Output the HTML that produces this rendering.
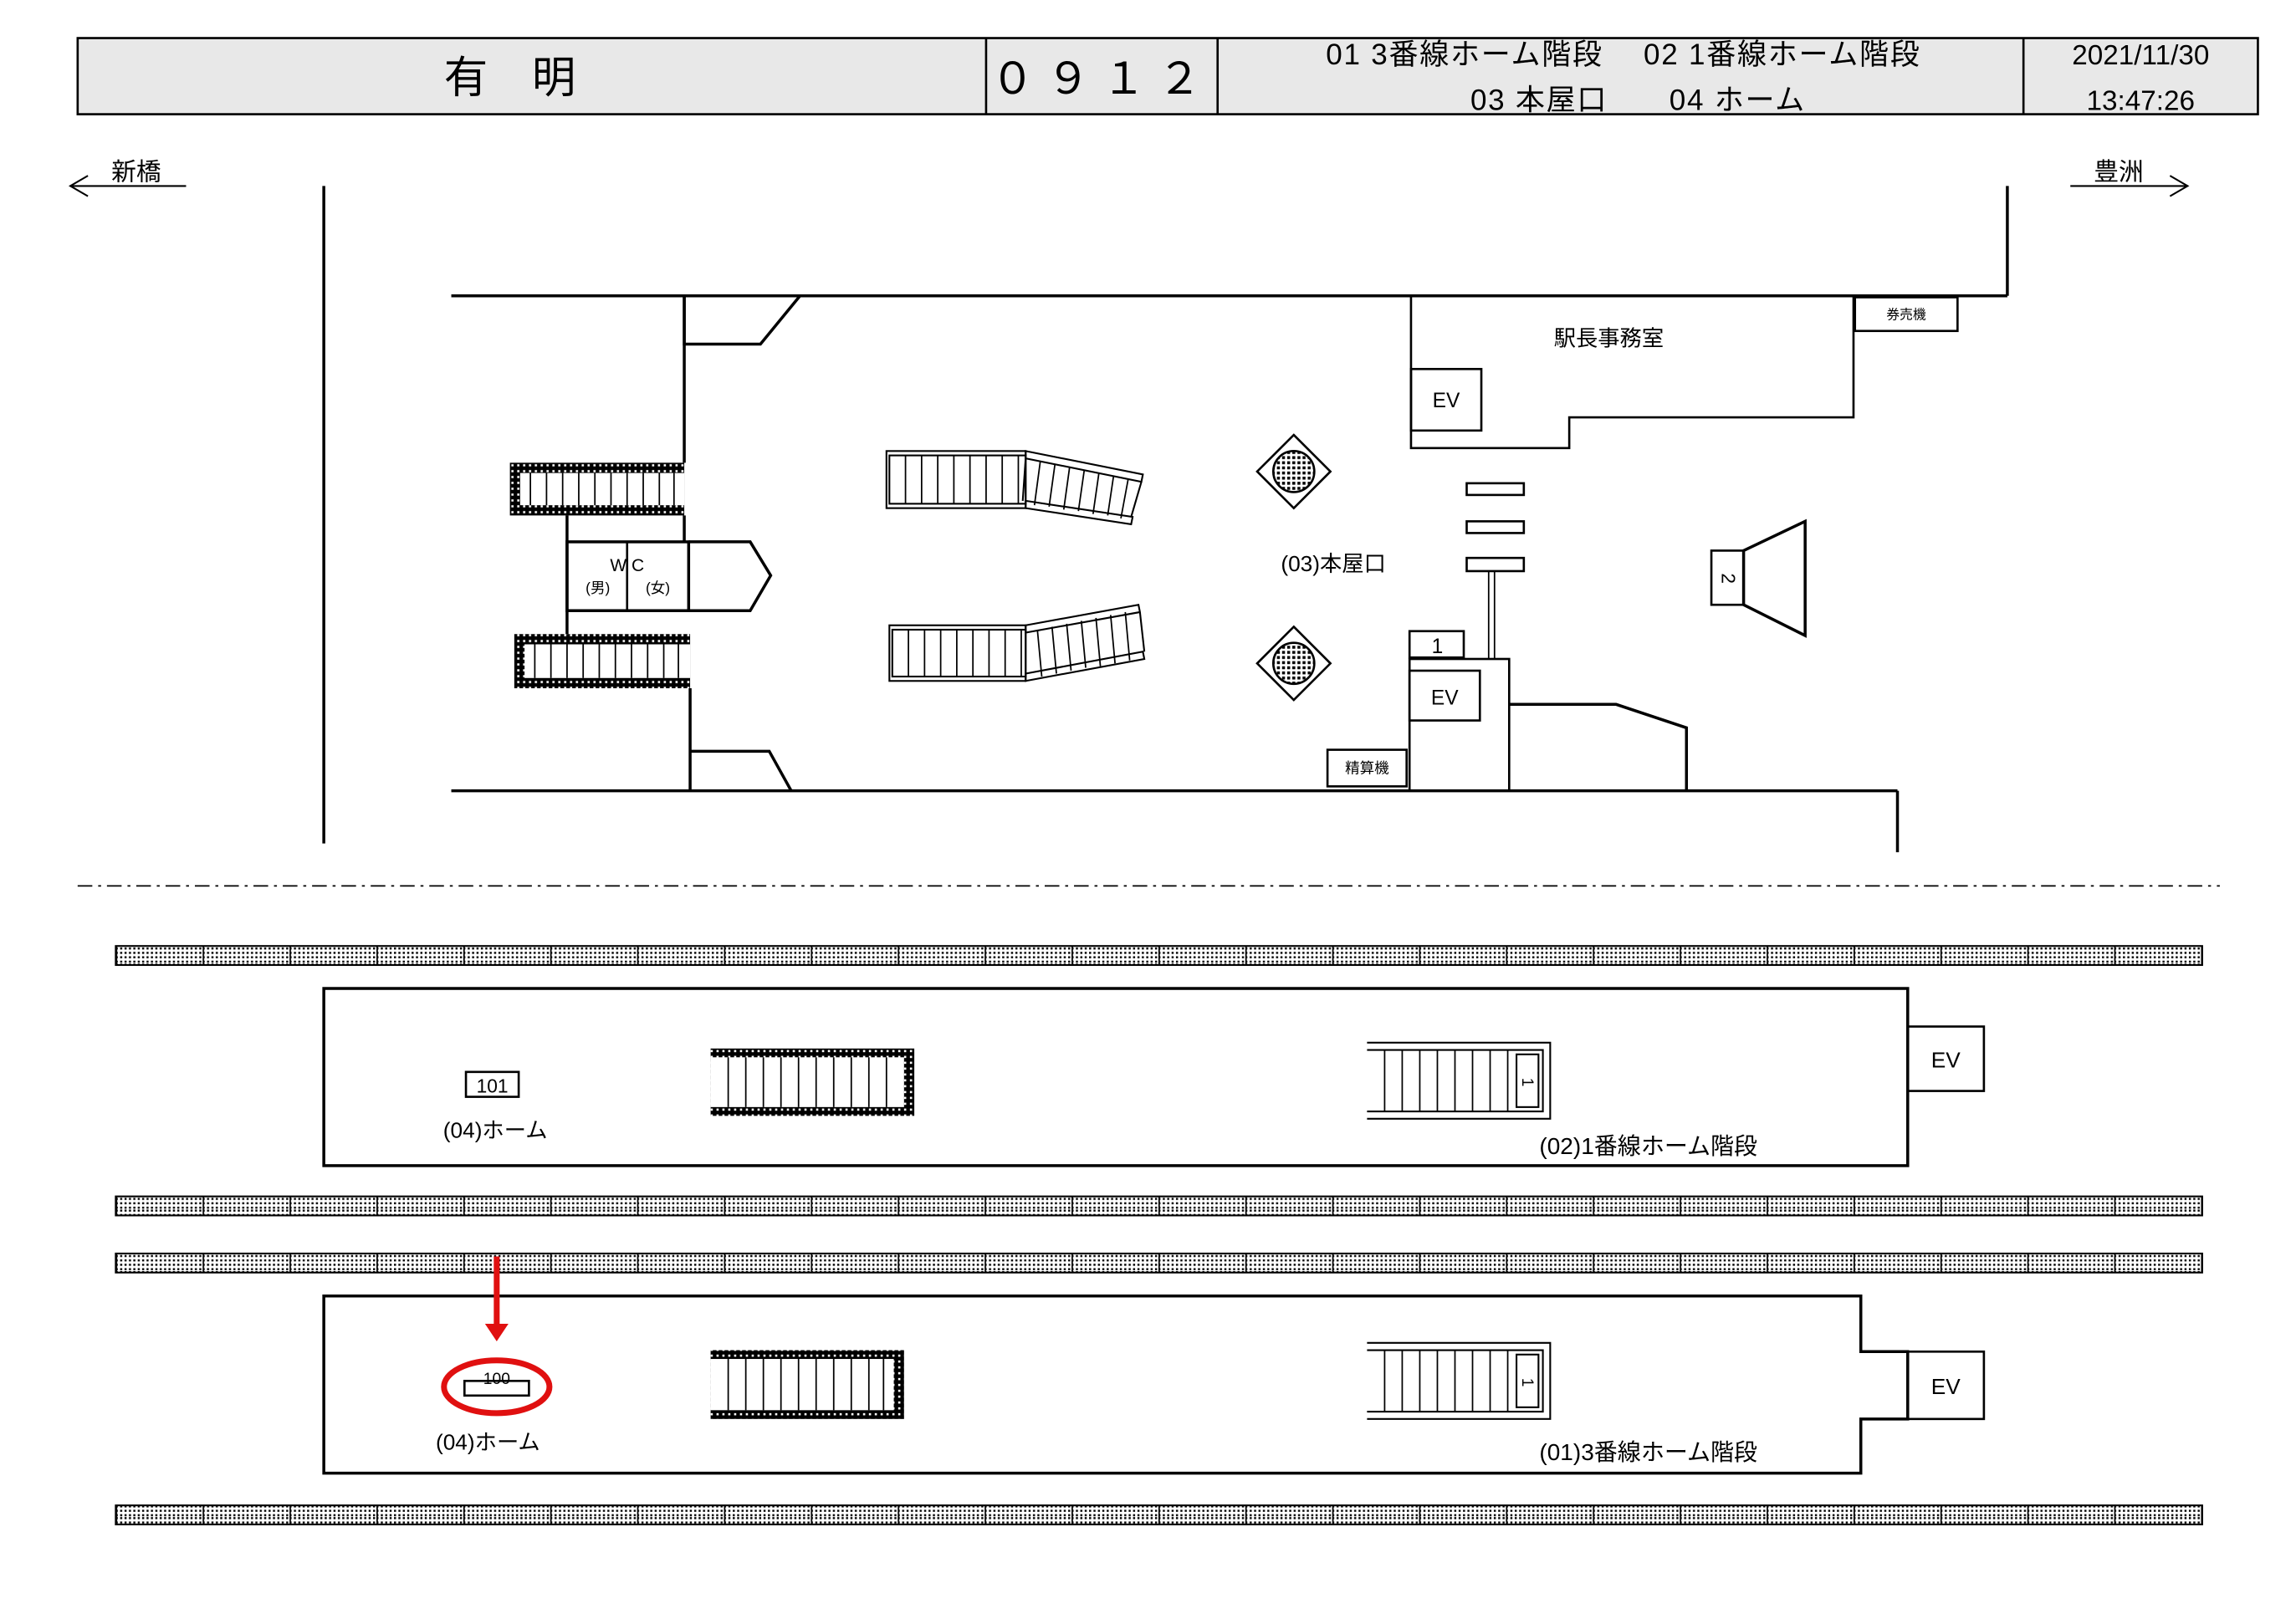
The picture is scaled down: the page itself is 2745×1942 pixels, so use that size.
<!DOCTYPE html>
<html><head><meta charset="utf-8"><style>html,body{margin:0;padding:0;background:#fff}svg{display:block}text{font-family:"Liberation Sans","Noto Sans CJK JP",sans-serif;fill:#000}</style></head>
<body>
<svg width="2745" height="1942" viewBox="0 0 1567 1109" preserveAspectRatio="none" xmlns="http://www.w3.org/2000/svg">
<defs>
<pattern id="d" width="3" height="3" patternUnits="userSpaceOnUse"><rect width="3" height="3" fill="#fff"/><rect width="1.4" height="1.4" fill="#000"/></pattern>
<pattern id="k" width="4" height="4" patternUnits="userSpaceOnUse"><rect width="4" height="4" fill="#000"/><rect x="1" y="1" width="1.5" height="1.5" fill="#fff"/></pattern>
<pattern id="c" width="3.5" height="3.5" patternUnits="userSpaceOnUse"><rect width="3.5" height="3.5" fill="#fff"/><rect width="2" height="2" fill="#000"/></pattern>
<pattern id="strip" width="59.3" height="14" patternUnits="userSpaceOnUse" x="79"><rect width="59.3" height="14" fill="url(#d)"/><line x1="0.5" y1="0" x2="0.5" y2="14" stroke="#000" stroke-width="1"/></pattern>
</defs>
<g fill="none" stroke="#000" stroke-width="1.5">
<rect x="53" y="26" width="1488" height="52" fill="#e8e8e8"/>
<line x1="673" y1="26" x2="673" y2="78"/><line x1="831" y1="26" x2="831" y2="78"/><line x1="1381" y1="26" x2="1381" y2="78"/>
<line x1="48" y1="127" x2="127" y2="127" stroke-width="1.2"/><polyline points="60,120 48,127 60,134" stroke-width="1.2"/>
<line x1="1413" y1="127" x2="1493" y2="127" stroke-width="1.2"/><polyline points="1481,120 1493,127 1481,134" stroke-width="1.2"/>
<line x1="221" y1="127" x2="221" y2="576" stroke-width="2"/>
<line x1="308" y1="202" x2="1370" y2="202" stroke-width="2"/>
<line x1="1370" y1="127" x2="1370" y2="202" stroke-width="2"/>
<line x1="308" y1="540" x2="1295" y2="540" stroke-width="2"/>
<line x1="1295" y1="540" x2="1295" y2="582" stroke-width="2"/>
<polyline points="467,202 467,316" stroke-width="2"/>
<polyline points="467,202 467,235 519,235 546,202" stroke-width="2"/>
<polyline points="467,352 467,370" stroke-width="2"/>
<polyline points="387,352 387,433" stroke-width="2"/>
<rect x="387" y="370" width="83" height="47" stroke-width="2"/>
<line x1="428" y1="370" x2="428" y2="417"/>
<polyline points="470,370 512,370 526,393 512,417 470,417" stroke-width="2"/>
<polyline points="471,470 471,540" stroke-width="2"/>
<polyline points="471,513 525,513 540,540" stroke-width="2"/>
</g>
<g>
<rect x="348" y="316" width="119" height="36" fill="url(#k)"/>
<rect x="355" y="323" width="112" height="22" fill="#fff"/>
<rect x="351" y="433" width="120" height="37" fill="url(#k)"/>
<rect x="358" y="440" width="113" height="23" fill="#fff"/>
</g>
<g stroke="#000" stroke-width="1">
<line x1="362" y1="323" x2="362" y2="345"/><line x1="373" y1="323" x2="373" y2="345"/><line x1="384" y1="323" x2="384" y2="345"/><line x1="395" y1="323" x2="395" y2="345"/><line x1="406" y1="323" x2="406" y2="345"/><line x1="417" y1="323" x2="417" y2="345"/><line x1="428" y1="323" x2="428" y2="345"/><line x1="439" y1="323" x2="439" y2="345"/><line x1="450" y1="323" x2="450" y2="345"/><line x1="460" y1="323" x2="460" y2="345"/>
<line x1="365" y1="440" x2="365" y2="463"/><line x1="376" y1="440" x2="376" y2="463"/><line x1="387" y1="440" x2="387" y2="463"/><line x1="398" y1="440" x2="398" y2="463"/><line x1="409" y1="440" x2="409" y2="463"/><line x1="420" y1="440" x2="420" y2="463"/><line x1="431" y1="440" x2="431" y2="463"/><line x1="442" y1="440" x2="442" y2="463"/><line x1="453" y1="440" x2="453" y2="463"/><line x1="463" y1="440" x2="463" y2="463"/>
</g>
<g fill="none" stroke="#000" stroke-width="1.2">
<rect x="605" y="308" width="95" height="39"/><rect x="607" y="311" width="93" height="33"/>
<polygon points="700,308 780,324 779,329 700,313"/>
<polygon points="700,342 773,353 772,358 700,347"/>
<line x1="779" y1="329" x2="772" y2="353"/><line x1="700" y1="313" x2="698" y2="342"/>
<rect x="607" y="427" width="93" height="38"/><rect x="609" y="430" width="91" height="32"/>
<polygon points="700,427 777,413 778,418 700,432"/>
<polygon points="700,460 780,445 781,450 700,465"/>
<line x1="778" y1="418" x2="781" y2="445"/>
</g>
<g stroke="#000" stroke-width="1">
<line x1="618" y1="311" x2="618" y2="344"/><line x1="629" y1="311" x2="629" y2="344"/><line x1="640" y1="311" x2="640" y2="344"/><line x1="651" y1="311" x2="651" y2="344"/><line x1="662" y1="311" x2="662" y2="344"/><line x1="673" y1="311" x2="673" y2="344"/><line x1="684" y1="311" x2="684" y2="344"/><line x1="695" y1="311" x2="695" y2="344"/>
<line x1="710" y1="315" x2="706" y2="345"/><line x1="720" y1="317" x2="716" y2="346"/><line x1="730" y1="319" x2="726" y2="348"/><line x1="740" y1="321" x2="736" y2="349"/><line x1="750" y1="323" x2="746" y2="351"/><line x1="760" y1="325" x2="756" y2="352"/><line x1="770" y1="327" x2="765" y2="354"/>
<line x1="620" y1="430" x2="620" y2="462"/><line x1="631" y1="430" x2="631" y2="462"/><line x1="642" y1="430" x2="642" y2="462"/><line x1="653" y1="430" x2="653" y2="462"/><line x1="664" y1="430" x2="664" y2="462"/><line x1="675" y1="430" x2="675" y2="462"/><line x1="686" y1="430" x2="686" y2="462"/><line x1="697" y1="430" x2="697" y2="462"/>
<line x1="708" y1="430" x2="711" y2="462"/><line x1="718" y1="428" x2="721" y2="460"/><line x1="728" y1="426" x2="731" y2="458"/><line x1="738" y1="424" x2="741" y2="456"/><line x1="748" y1="422" x2="751" y2="455"/><line x1="758" y1="420" x2="761" y2="453"/><line x1="768" y1="418" x2="771" y2="451"/>
</g>
<g stroke="#000" stroke-width="1.5">
<polygon points="883,297 908,322 883,347 858,322" fill="#fff"/><circle cx="883" cy="322" r="14" fill="url(#c)"/>
<polygon points="883,428 908,453 883,478 858,453" fill="#fff"/><circle cx="883" cy="453" r="14" fill="url(#c)"/>
</g>
<g fill="none" stroke="#000" stroke-width="1.5">
<polyline points="963,202 963,306 1071,306 1071,285 1265,285 1265,202"/>
<rect x="963" y="252" width="48" height="42"/>
<rect x="1266" y="203" width="70" height="23"/>
<rect x="1001" y="330" width="39" height="8"/><rect x="1001" y="356" width="39" height="8"/><rect x="1001" y="381" width="39" height="9"/>
<line x1="1016" y1="390" x2="1016" y2="450" stroke-width="1"/><line x1="1020" y1="390" x2="1020" y2="450" stroke-width="1"/>
<rect x="962" y="431" width="37" height="18"/>
<rect x="962" y="450" width="68" height="90"/>
<rect x="962" y="458" width="48" height="34"/>
<polyline points="1030,481 1103,481 1151,497 1151,540" stroke-width="2"/>
<rect x="906" y="512" width="54" height="25"/>
<rect x="1168" y="376" width="22" height="37"/>
<polygon points="1190,376 1232,356 1232,434 1190,413" stroke-width="2"/>
</g>
<line x1="53" y1="605" x2="1515" y2="605" stroke="#000" stroke-width="1" stroke-dasharray="10,4,2,4"/>
<g stroke="#000" stroke-width="1.2">
<rect x="79" y="646" width="1424" height="13" fill="url(#strip)"/>
<rect x="79" y="817" width="1424" height="13" fill="url(#strip)"/>
<rect x="79" y="856" width="1424" height="13" fill="url(#strip)"/>
<rect x="79" y="1028" width="1424" height="13" fill="url(#strip)"/>
</g>
<g fill="none" stroke="#000" stroke-width="2">
<rect x="221" y="675" width="1081" height="121"/>
<rect x="1302" y="701" width="52" height="44" stroke-width="1.5"/>
<polygon points="221,885 1270,885 1270,923 1302,923 1302,969 1270,969 1270,1006 221,1006"/>
<rect x="1302" y="923" width="52" height="46" stroke-width="1.5"/>
<rect x="318" y="732" width="36" height="17" stroke-width="1.5"/>
<rect x="317" y="943" width="44" height="10" stroke-width="1.5"/>
</g>
<g>
<rect x="485" y="716" width="139" height="46" fill="url(#k)"/><rect x="485" y="722" width="132" height="34" fill="#fff"/>
<rect x="485" y="922" width="132" height="47" fill="url(#k)"/><rect x="485" y="928" width="125" height="35" fill="#fff"/>
</g>
<g stroke="#000" stroke-width="1">
<line x1="497" y1="722" x2="497" y2="756"/><line x1="509" y1="722" x2="509" y2="756"/><line x1="521" y1="722" x2="521" y2="756"/><line x1="533" y1="722" x2="533" y2="756"/><line x1="545" y1="722" x2="545" y2="756"/><line x1="557" y1="722" x2="557" y2="756"/><line x1="569" y1="722" x2="569" y2="756"/><line x1="581" y1="722" x2="581" y2="756"/><line x1="593" y1="722" x2="593" y2="756"/><line x1="605" y1="722" x2="605" y2="756"/>
<line x1="497" y1="928" x2="497" y2="963"/><line x1="509" y1="928" x2="509" y2="963"/><line x1="521" y1="928" x2="521" y2="963"/><line x1="533" y1="928" x2="533" y2="963"/><line x1="545" y1="928" x2="545" y2="963"/><line x1="557" y1="928" x2="557" y2="963"/><line x1="569" y1="928" x2="569" y2="963"/><line x1="581" y1="928" x2="581" y2="963"/><line x1="593" y1="928" x2="593" y2="963"/><line x1="603" y1="928" x2="603" y2="963"/>
</g>
<g fill="none" stroke="#000" stroke-width="1.2">
<polyline points="933,712 1058,712 1058,764 933,764"/><polyline points="933,717 1053,717 1053,759 933,759"/>
<rect x="1035" y="720" width="15" height="36"/>
<polyline points="933,917 1058,917 1058,969 933,969"/><polyline points="933,922 1053,922 1053,964 933,964"/>
<rect x="1035" y="925" width="15" height="36"/>
</g>
<g stroke="#000" stroke-width="1">
<line x1="945" y1="717" x2="945" y2="759"/><line x1="957" y1="717" x2="957" y2="759"/><line x1="969" y1="717" x2="969" y2="759"/><line x1="981" y1="717" x2="981" y2="759"/><line x1="993" y1="717" x2="993" y2="759"/><line x1="1005" y1="717" x2="1005" y2="759"/><line x1="1017" y1="717" x2="1017" y2="759"/><line x1="1029" y1="717" x2="1029" y2="759"/>
<line x1="945" y1="922" x2="945" y2="964"/><line x1="957" y1="922" x2="957" y2="964"/><line x1="969" y1="922" x2="969" y2="964"/><line x1="981" y1="922" x2="981" y2="964"/><line x1="993" y1="922" x2="993" y2="964"/><line x1="1005" y1="922" x2="1005" y2="964"/><line x1="1017" y1="922" x2="1017" y2="964"/><line x1="1029" y1="922" x2="1029" y2="964"/>
</g>
<line x1="339" y1="858" x2="339" y2="906" stroke="#e01010" stroke-width="4"/>
<polygon points="331,904 347,904 339,916" fill="#e01010"/>
<ellipse cx="339" cy="947" rx="36" ry="18" fill="none" stroke="#e01010" stroke-width="4"/>
<g text-anchor="middle">
<text x="363" y="63" font-size="30" letter-spacing="30">有明</text>
<text x="752" y="64" font-size="30" letter-spacing="8">０９１２</text>
<text x="1108" y="44" font-size="20" letter-spacing="1">01 3番線ホーム階段　 02 1番線ホーム階段</text>
<text x="1118" y="75" font-size="20" letter-spacing="1">03 本屋口　　04 ホーム</text>
<text x="1461" y="44" font-size="19">2021/11/30</text>
<text x="1461" y="75" font-size="19">13:47:26</text>
<text x="93" y="123" font-size="17">新橋</text>
<text x="1446" y="123" font-size="17">豊洲</text>
<text x="428" y="390" font-size="12">W C</text>
<text x="408" y="405" font-size="10">(男)</text>
<text x="449" y="405" font-size="10">(女)</text>
<text x="910" y="390" font-size="15">(03)本屋口</text>
<text x="1098" y="236" font-size="15">駅長事務室</text>
<text x="987" y="278" font-size="14">EV</text>
<text x="1301" y="218" font-size="9">券売機</text>
<text x="981" y="446" font-size="14">1</text>
<text x="986" y="481" font-size="14">EV</text>
<text x="933" y="528" font-size="10">精算機</text>
<text x="1179" y="395" font-size="13" transform="rotate(90 1179 395)" dy="4">2</text>
<text x="1328" y="729" font-size="15">EV</text>
<text x="1328" y="952" font-size="15">EV</text>
<text x="336" y="746" font-size="13">101</text>
<text x="338" y="777" font-size="15">(04)ホーム</text>
<text x="339" y="945" font-size="11">100</text>
<text x="333" y="990" font-size="15">(04)ホーム</text>
<text x="1125" y="788" font-size="16">(02)1番線ホーム階段</text>
<text x="1125" y="997" font-size="16">(01)3番線ホーム階段</text>
<text x="1043" y="739" font-size="11" transform="rotate(90 1043 739)" dy="4">1</text>
<text x="1043" y="944" font-size="11" transform="rotate(90 1043 944)" dy="4">1</text>
</g>
</svg>
</body></html>
